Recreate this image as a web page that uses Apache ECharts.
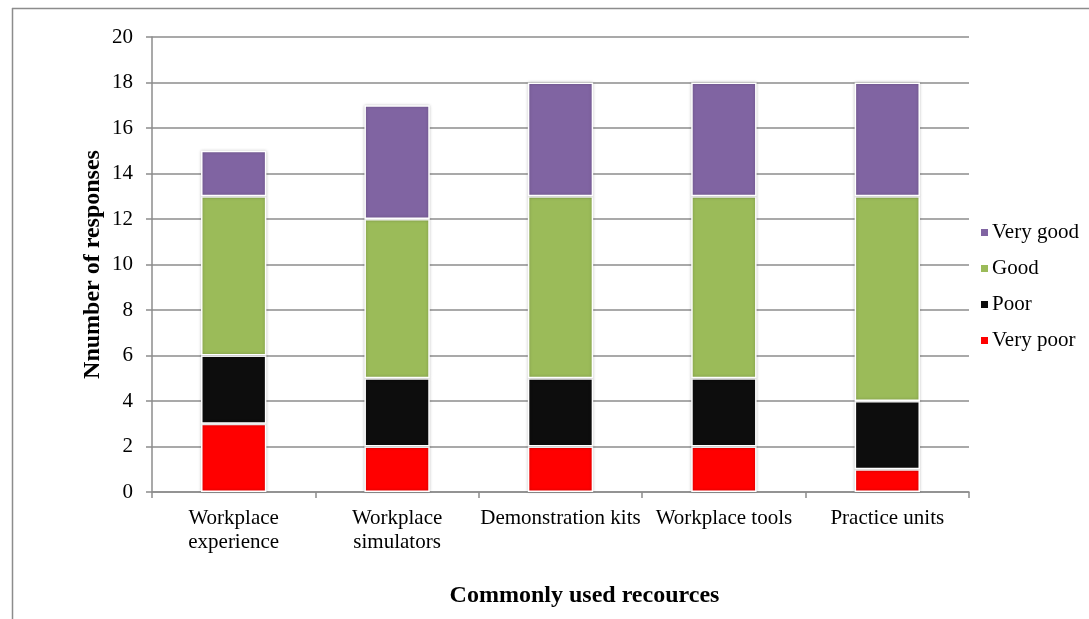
<!DOCTYPE html>
<html>
<head>
<meta charset="utf-8">
<script src="https://cdn.jsdelivr.net/npm/echarts@6/dist/echarts.min.js"></script>
<style>
  html, body { margin: 0; padding: 0; background: #fff; }
  #chart { width: 1089px; height: 619px; }
</style>
</head>
<body>
<div id="chart"></div>
<script>
// Resource categories along the x axis
const categories = [
  'Workplace\nexperience',
  'Workplace\nsimulators',
  'Demonstration kits',
  'Workplace tools',
  'Practice units'
];

// Ratings per resource (stacked bottom to top)
const veryPoor = [3, 2, 2, 2, 1];
const poor     = [3, 3, 3, 3, 3];
const good     = [7, 7, 8, 8, 9];
const veryGood = [2, 5, 5, 5, 5];

const legendOrder = ['Very good', 'Good', 'Poor', 'Very poor'];

const FONT = '"Liberation Serif", "DejaVu Serif", serif';

function stackSeries(name, values, color) {
  return {
    name: name,
    type: 'bar',
    stack: 'total',
    barWidth: '40%',
    data: values,
    itemStyle: {
      color: color,
      borderColor: '#ffffff',
      borderWidth: 1.5,
      shadowBlur: 3,
      shadowColor: 'rgba(0,0,0,0.25)'
    }
  };
}

const chart = echarts.init(document.getElementById('chart'), null, { renderer: 'canvas' });

chart.setOption({
  animation: false,
  backgroundColor: '#ffffff',
  textStyle: { fontFamily: FONT, color: '#000' },
  graphic: [
    { type: 'line', shape: { x1: 12, y1: 8.5, x2: 1089, y2: 8.5 }, style: { stroke: '#8c8c8c', lineWidth: 1.5 } },
    { type: 'line', shape: { x1: 12.5, y1: 8, x2: 12.5, y2: 619 }, style: { stroke: '#8c8c8c', lineWidth: 1.5 } }
  ],
  grid: { left: 152, right: 120, top: 37, bottom: 127, containLabel: false },
  legend: {
    data: legendOrder,
    orient: 'vertical',
    left: 974,
    top: 217,
    itemGap: 15,
    itemWidth: 9,
    itemHeight: 9,
    icon: 'rect',
    textStyle: { fontFamily: FONT, fontSize: 21, color: '#000', padding: [0, 0, 0, -2] }
  },
  xAxis: {
    type: 'category',
    data: categories,
    name: 'Commonly used recources',
    nameLocation: 'middle',
    nameGap: 92,
    nameTextStyle: { fontFamily: FONT, fontSize: 24, fontWeight: 'bold', color: '#000', padding: [0, 0, 0, 48] },
    axisLine: { lineStyle: { color: '#8c8c8c', width: 1.5 } },
    axisTick: { show: true, alignWithLabel: false, length: 6, lineStyle: { color: '#8c8c8c', width: 1.5 } },
    axisLabel: { fontFamily: FONT, fontSize: 21, color: '#000', margin: 14, lineHeight: 24, interval: 0 }
  },
  yAxis: {
    type: 'value',
    min: 0,
    max: 20,
    interval: 2,
    name: 'Nnumber of responses',
    nameLocation: 'middle',
    nameMoveOverlap: false,
    nameGap: 47,
    nameTextStyle: { fontFamily: FONT, fontSize: 24, fontWeight: 'bold', color: '#000' },
    axisLine: { show: true, lineStyle: { color: '#8c8c8c', width: 1.5 } },
    axisTick: { show: true, length: 6, lineStyle: { color: '#8c8c8c', width: 1.5 } },
    axisLabel: { fontFamily: FONT, fontSize: 21, color: '#000', margin: 19 },
    splitLine: { show: true, lineStyle: { color: '#8c8c8c', width: 1.5 } }
  },
  series: [
    stackSeries('Very poor', veryPoor, '#ff0000'),
    stackSeries('Poor', poor, '#0d0d0d'),
    stackSeries('Good', good, '#9bbb59'),
    stackSeries('Very good', veryGood, '#8064a2')
  ]
});
</script>
</body>
</html>
